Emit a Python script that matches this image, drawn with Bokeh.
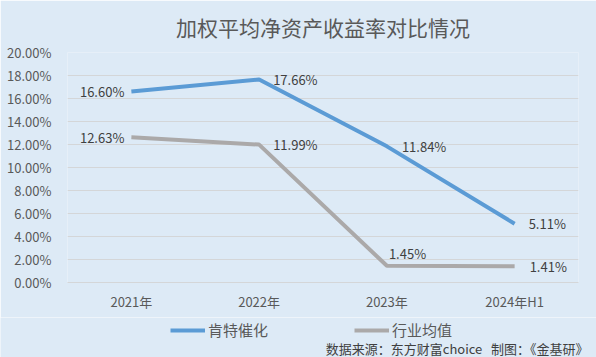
from bokeh.plotting import figure
from bokeh.layouts import column
from bokeh.models import (ColumnDataSource, FactorRange, Range1d, Legend, LegendItem, Label,
                          FixedTicker, CustomJSTickFormatter)
from bokeh.core.properties import value
from bokeh.embed import file_html
from bokeh.resources import INLINE

# ---- data ----
categories = ["2021年", "2022年", "2023年", "2024年H1"]
kente = [16.60, 17.66, 11.84, 5.11]
industry = [12.63, 11.99, 1.45, 1.41]
series_names = ["肯特催化", "行业均值"]
y_ticks = [0, 2, 4, 6, 8, 10, 12, 14, 16, 18, 20]
title_text = "加权平均净资产收益率对比情况"
source_text = "数据来源：东方财富choice\u00a0\u00a0\u00a0制图：《金基研》"

FONT = "Noto Sans CJK SC"
BG = "#DDEAF6"
BLUE = "#5B9BD5"
GRAY = "#ABA9A9"

p = figure(width=596, height=317, x_range=FactorRange(*categories), y_range=Range1d(0, 20),
           output_backend="svg", toolbar_location=None, frame_align=False,
           min_border_left=67, min_border_right=18, min_border_top=52, min_border_bottom=35)
p.background_fill_color = BG
p.border_fill_color = BG
p.outline_line_color = None
p.x_range.range_padding = 0

# title
p.title.text = title_text
p.title.align = "center"
p.title.text_font = FONT
p.title.text_font_size = "21px"
p.title.text_font_style = "normal"
p.title.text_color = "#595959"
p.title.standoff = 17
p.title.vertical_align = "top"

# grid
p.xgrid.grid_line_color = None
p.ygrid.grid_line_color = "#D4D6D8"
p.ygrid.grid_line_width = 1
p.yaxis.ticker = FixedTicker(ticks=y_ticks)

# axes
p.yaxis.formatter = CustomJSTickFormatter(code="return tick.toFixed(2) + '%';")
for ax in (p.xaxis[0], p.yaxis[0]):
    ax.major_label_text_font = FONT
    ax.major_label_text_font_size = "13px"
    ax.major_label_text_color = "#595959"
    ax.major_tick_line_color = None
    ax.minor_tick_line_color = None
p.yaxis.axis_line_color = None
p.yaxis.major_label_standoff = 10
p.xaxis.axis_line_color = "#D4D6D8"
p.xaxis.major_label_standoff = 3

src = ColumnDataSource(dict(x=categories, kente=kente, industry=industry,
                            kl=[f"{v:.2f}%" for v in kente],
                            il=[f"{v:.2f}%" for v in industry],
                            k_dx=[-7, 14, 15, 14], k_dy=[0, 0, 0, 0],
                            k_al=["right", "left", "left", "left"],
                            i_dx=[-7, 14, 2, 15], i_dy=[0, 0, -12, 0],
                            i_al=["right", "left", "left", "left"]))

p.line("x", "kente", source=src, line_color=BLUE, line_width=4)
p.line("x", "industry", source=src, line_color=GRAY, line_width=4)

p.text("x", "kente", text="kl", source=src, x_offset="k_dx", y_offset="k_dy", text_align="k_al",
       text_baseline="middle", text_font=value(FONT), text_font_size="13px", text_color="#404040")
p.text("x", "industry", text="il", source=src, x_offset="i_dx", y_offset="i_dy", text_align="i_al",
       text_baseline="middle", text_font=value(FONT), text_font_size="13px", text_color="#404040")

# ---- footer: legend + source ----
f = figure(width=596, height=40, x_range=Range1d(0, 596), y_range=Range1d(0, 40),
           output_backend="svg", toolbar_location=None, x_axis_type=None, y_axis_type=None,
           min_border=0, frame_align=False)
f.background_fill_color = BG
f.border_fill_color = BG
f.outline_line_color = None
f.xgrid.grid_line_color = None
f.ygrid.grid_line_color = None
nan = float("nan")
g1 = f.line("x", "y", source=ColumnDataSource(dict(x=[nan], y=[nan])), line_color=BLUE, line_width=4)
g2 = f.line("x", "y", source=ColumnDataSource(dict(x=[nan], y=[nan])), line_color=GRAY, line_width=4)
legend = Legend(items=[LegendItem(label=series_names[0], renderers=[g1]),
                       LegendItem(label=series_names[1], renderers=[g2])],
                orientation="horizontal", location=(170, 17),
                background_fill_alpha=0, border_line_color=None,
                label_text_font=FONT, label_text_font_size="15px", label_text_color="#595959",
                glyph_width=35, glyph_height=10, label_standoff=3, spacing=86, padding=0, margin=0)
f.add_layout(legend, "center")
f.add_layout(Label(x=588, y=9, text=source_text, text_align="right", text_baseline="middle",
                   text_font=FONT, text_font_size="13px", text_color="#404040"))

layout = column(p, f, spacing=0)
open("out.html", "w").write(file_html(layout, INLINE))
